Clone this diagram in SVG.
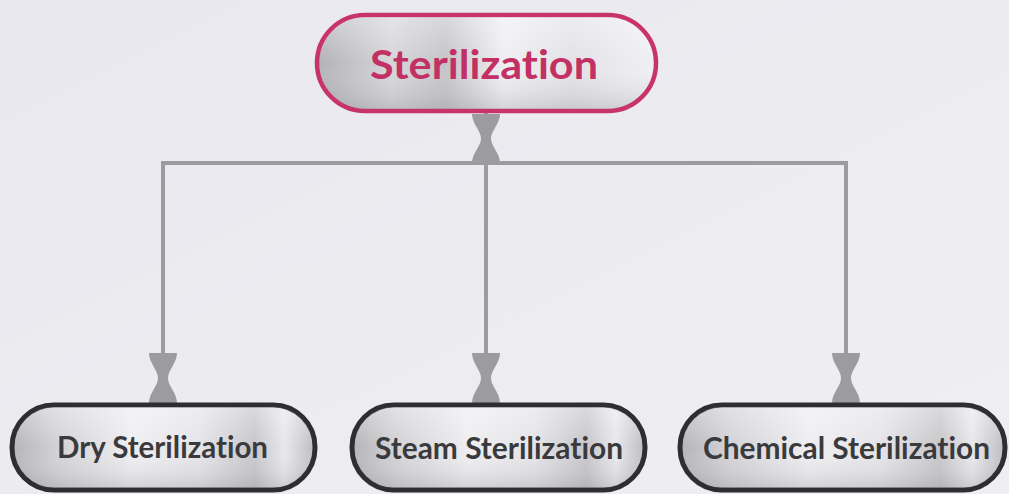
<svg xmlns="http://www.w3.org/2000/svg" width="1009" height="494" viewBox="0 0 1009 494">
  <defs>
    <linearGradient id="bg" x1="0" y1="0" x2="1" y2="1">
      <stop offset="0" stop-color="#e8e8ee"/>
      <stop offset="0.6" stop-color="#ececf1"/>
      <stop offset="1" stop-color="#efeff3"/>
    </linearGradient>
    <linearGradient id="metalTop" x1="0" y1="0" x2="1" y2="0">
      <stop offset="0" stop-color="#b2b2b6"/>
      <stop offset="0.22" stop-color="#d6d6da"/>
      <stop offset="0.38" stop-color="#c4c4c8"/>
      <stop offset="0.55" stop-color="#efeff2"/>
      <stop offset="0.75" stop-color="#e2e2e6"/>
      <stop offset="1" stop-color="#f0f0f3"/>
    </linearGradient>
    <linearGradient id="metal" x1="0" y1="0" x2="1" y2="0">
      <stop offset="0" stop-color="#b4b4b8"/>
      <stop offset="0.15" stop-color="#d2d2d6"/>
      <stop offset="0.4" stop-color="#eeeef1"/>
      <stop offset="0.62" stop-color="#e4e4e8"/>
      <stop offset="0.8" stop-color="#c6c6ca"/>
      <stop offset="0.9" stop-color="#e8e8ec"/>
      <stop offset="1" stop-color="#bdbdc1"/>
    </linearGradient>
    <linearGradient id="shade" x1="0" y1="0" x2="0" y2="1">
      <stop offset="0" stop-color="#ffffff" stop-opacity="0.35"/>
      <stop offset="0.5" stop-color="#ffffff" stop-opacity="0"/>
      <stop offset="1" stop-color="#808084" stop-opacity="0.25"/>
    </linearGradient>
    <path id="hourglass" d="M-14,0 L14,0 C14,10 5,17 5,25 C5,33 14,40 14,50 L-14,50 C-14,40 -5,33 -5,25 C-5,17 -14,10 -14,0 Z"/>
    <style>
      .line { fill: none; stroke: #9c9ca0; stroke-width: 4; }
      .hg { fill: #9c9ca0; }
      .topBox { fill: url(#metalTop); stroke: #c8346a; stroke-width: 4.5; }
      .box { fill: url(#metal); stroke: #2e2e31; stroke-width: 5; }
      .shade { fill: url(#shade); stroke: none; }
      text { font-variant-ligatures: none; font-feature-settings: "liga" 0, "dlig" 0; }
      .topText { font-family: Lato, "Open Sans", sans-serif; font-weight: bold; font-size: 41px; fill: #c33064; text-anchor: middle; }
      .text { font-family: Lato, "Open Sans", sans-serif; font-weight: bold; font-size: 30px; fill: #3a3a3d; text-anchor: middle; }
    </style>
  </defs>
  <rect x="0" y="0" width="1009" height="494" fill="url(#bg)"/>

  <g id="connectors">
    <line class="line" x1="486" y1="113" x2="486" y2="163"/>
    <polyline class="line" points="163,353 163,163 846,163 846,353"/>
    <line class="line" x1="486" y1="163" x2="486" y2="353"/>
    <use href="#hourglass" class="hg" transform="translate(486,114) scale(1,0.98)"/>
    <use href="#hourglass" class="hg" transform="translate(163,353)"/>
    <use href="#hourglass" class="hg" transform="translate(486,353)"/>
    <use href="#hourglass" class="hg" transform="translate(846,353)"/>
  </g>

  <g id="node-sterilization">
    <rect class="topBox" x="317" y="15" width="339" height="96" rx="48"/>
    <rect class="shade" x="319" y="17" width="335" height="92" rx="46"/>
    <text class="topText" x="484" y="79" textLength="228" lengthAdjust="spacingAndGlyphs">Sterilization</text>
  </g>

  <g id="node-dry">
    <rect class="box" x="12" y="405" width="303" height="85" rx="42"/>
    <rect class="shade" x="14" y="407" width="299" height="81" rx="40"/>
    <text class="text" x="162.5" y="458" textLength="211" lengthAdjust="spacingAndGlyphs">Dry Sterilization</text>
  </g>

  <g id="node-steam">
    <rect class="box" x="352" y="405" width="293" height="85" rx="42"/>
    <rect class="shade" x="354" y="407" width="289" height="81" rx="40"/>
    <text class="text" x="499" y="459" textLength="248" lengthAdjust="spacingAndGlyphs">Steam Sterilization</text>
  </g>

  <g id="node-chemical">
    <rect class="box" x="680" y="405" width="325" height="85" rx="42"/>
    <rect class="shade" x="682" y="407" width="321" height="81" rx="40"/>
    <text class="text" x="846.5" y="459" textLength="287" lengthAdjust="spacingAndGlyphs">Chemical Sterilization</text>
  </g>
</svg>
